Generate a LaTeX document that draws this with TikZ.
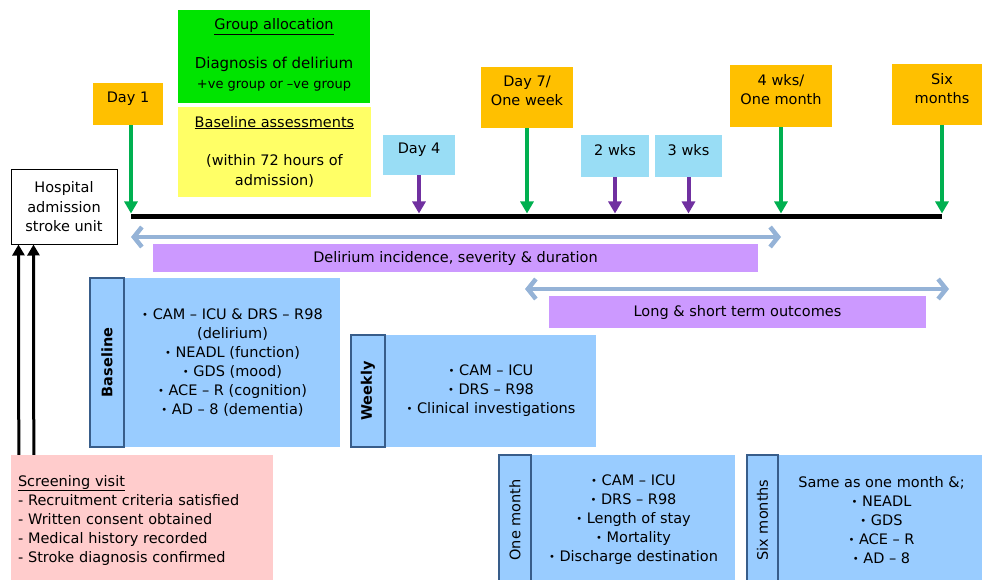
\documentclass[tikz,border=0pt]{standalone}
\usepackage{fontspec}
\setmainfont{DejaVu Sans}
\usetikzlibrary{arrows.meta,positioning,calc}

\definecolor{dateorange}{RGB}{255,192,0}
\definecolor{checkblue}{RGB}{153,221,245}
\definecolor{allocgreen}{RGB}{0,228,0}
\definecolor{assessyellow}{RGB}{255,255,102}
\definecolor{arrowgreen}{RGB}{0,176,80}
\definecolor{arrowpurple}{RGB}{112,48,160}
\definecolor{spanblue}{RGB}{149,179,215}
\definecolor{spanlilac}{RGB}{204,153,255}
\definecolor{panelblue}{RGB}{153,204,255}
\definecolor{paneledge}{RGB}{56,93,138}
\definecolor{screenpink}{RGB}{255,204,204}

\newcommand{\txtsize}{\fontsize{14.5}{19}\selectfont}
\newcommand{\itm}{\raisebox{0.15ex}{\fontsize{10}{10}\selectfont\textbullet}~}

\tikzset{
  datebox/.style={fill=dateorange, align=center, inner sep=0pt, text depth=13pt, font=\txtsize},
  checkbox/.style={fill=checkblue, align=center, inner sep=0pt, text depth=13pt, font=\txtsize},
  notebox/.style={inner sep=0pt},
  notetext/.style={align=center, inner sep=0pt, font=\fontsize{14.5}{20}\selectfont},
  hospbox/.style={draw=black, line width=1pt, fill=white, align=center, inner sep=0pt, font=\fontsize{14.5}{19.5}\selectfont},
  spanbox/.style={fill=spanlilac, inner sep=0pt, font=\txtsize},
  panelbox/.style={fill=panelblue, align=center, inner sep=0pt, font=\txtsize},
  panellab/.style={fill=panelblue, draw=paneledge, line width=1.5pt, rotate=90, inner sep=0pt, font=\txtsize},
  screenbox/.style={fill=screenpink, align=left, inner sep=0pt, font=\txtsize},
  timeline/.style={line width=5pt, black},
  greenarrow/.style={draw=arrowgreen, line width=4pt, -{Triangle[width=13pt,length=12pt]}, shorten >=2.5pt},
  purplearrow/.style={draw=arrowpurple, line width=4pt, -{Triangle[width=13pt,length=12pt]}, shorten >=2.5pt},
  uparrow/.style={draw=black, line width=3pt, -{Triangle[width=12pt,length=11pt]}},
  spanarrow/.style={draw=spanblue, line width=4.5pt, {Straight Barb[length=8pt,width=20pt]}-{Straight Barb[length=8pt,width=20pt]}}
}

\begin{document}
\begin{tikzpicture}[x=1pt,y=-1pt]
  \useasboundingbox (0,0) rectangle (982,580);

  % time line
  \coordinate (tlstart) at (131,216);
  \coordinate (tlend) at (942,216);
  \draw[timeline] (tlstart) -- (tlend);

  % allocation and baseline notes
  \node[notebox, fill=allocgreen, minimum width=192, minimum height=93] (alloc) at (274,56.5) {};
  \node[notetext, anchor=north] (alloctext) at ([yshift=-8.5pt]alloc.north)
    {\underline{Group allocation}\\[19pt]{\fontsize{15}{20}\selectfont Diagnosis of delirium}\\{\fontsize{13}{20}\selectfont +ve group or --ve group}};
  \node[notebox, fill=assessyellow, minimum width=193, minimum height=90] (baseass) at (274.5,152) {};
  \node[notetext, anchor=north] (baseasstext) at ([yshift=-9pt]baseass.north)
    {\underline{Baseline assessments}\\[18pt](within 72 hours of\\admission)};

  \node[hospbox, minimum width=106, minimum height=74] (hosp) at (64,207) {Hospital\\admission\\stroke unit};

  % time points
  \node[datebox, minimum width=70, minimum height=42] (day1) at (128,104) {Day 1};
  \node[checkbox, minimum width=72, minimum height=40] (day4) at (419,155) {Day 4};
  \node[datebox, minimum width=92, minimum height=61] (week1) at (527,97.5) {Day 7/\\One week};
  \node[checkbox, minimum width=68, minimum height=42] (wk2) at (615,156) {2 wks};
  \node[checkbox, minimum width=67, minimum height=42] (wk3) at (688.5,156) {3 wks};
  \node[datebox, minimum width=102, minimum height=62] (month1) at (781,96) {4 wks/\\One month};
  \node[datebox, minimum width=100, minimum height=61] (month6) at (942,94.5) {Six\\months};

  \draw[greenarrow] (day1.south -| tlstart) -- (tlstart);
  \draw[purplearrow] (day4.south) -- (day4.south |- tlstart);
  \draw[greenarrow] (week1.south) -- (week1.south |- tlstart);
  \draw[purplearrow] (wk2.south) -- (wk2.south |- tlstart);
  \draw[purplearrow] (wk3.south) -- (wk3.south |- tlstart);
  \draw[greenarrow] (month1.south) -- (month1.south |- tlstart);
  \draw[greenarrow] (month6.south) -- (month6.south |- tlend);

  % spans
  \coordinate (delstart) at (131,237);
  \draw[spanarrow] (delstart) -- (delstart -| month1.south);
  \node[spanbox, minimum width=605, minimum height=28] (delspan) at (455.5,258) {Delirium incidence, severity \& duration};
  \coordinate (outstart) at (525,289);
  \coordinate (outend) at (949,289);
  \draw[spanarrow] (outstart) -- (outend);
  \node[spanbox, minimum width=377, minimum height=32] (outspan) at (737.5,312) {Long \& short term outcomes};

  % assessment panels
  \node[panelbox, minimum width=215, minimum height=169] (basecont) at (232.5,362.5)
    {\itm CAM -- ICU \& DRS -- R98\\(delirium)\\\itm NEADL (function)\\\itm GDS (mood)\\\itm ACE -- R (cognition)\\\itm AD -- 8 (dementia)};
  \node[panellab, minimum width=169, minimum height=34, anchor=south, font=\txtsize\bfseries] (baselab) at (basecont.west) {Baseline};

  \node[panelbox, minimum width=210, minimum height=112] (weekcont) at (491,391)
    {\itm CAM -- ICU\\\itm DRS -- R98\\\itm Clinical investigations};
  \node[panellab, minimum width=112, minimum height=34, anchor=south, font=\txtsize\bfseries] (weeklab) at (weekcont.west) {Weekly};

  \node[panelbox, minimum width=203, minimum height=130] (monthcont) at (633.5,520)
    {\itm CAM -- ICU\\\itm DRS -- R98\\\itm Length of stay\\\itm Mortality\\\itm Discharge destination};
  \node[panellab, minimum width=130, minimum height=32, anchor=south] (monthlab) at (monthcont.west) {One month};

  \node[panelbox, minimum width=205, minimum height=130] (sixcont) at (881.5,520)
    {Same as one month \&;\\\itm NEADL\\\itm GDS\\\itm ACE -- R\\\itm AD -- 8};
  \node[panellab, minimum width=130, minimum height=31, anchor=south] (sixlab) at (sixcont.west) {Six months};

  % screening
  \node[screenbox, minimum width=262, minimum height=130, text width=248] (screen) at (142,520)
    {\underline{Screening visit}\\- Recruitment criteria satisfied\\- Written consent obtained\\- Medical history recorded\\- Stroke diagnosis confirmed};
  \draw[uparrow] ([xshift=8pt]screen.north west) -- ([xshift=8pt]hosp.south west);
  \draw[uparrow] ([xshift=23pt]screen.north west) -- ([xshift=23pt]hosp.south west);
\end{tikzpicture}
\end{document}
